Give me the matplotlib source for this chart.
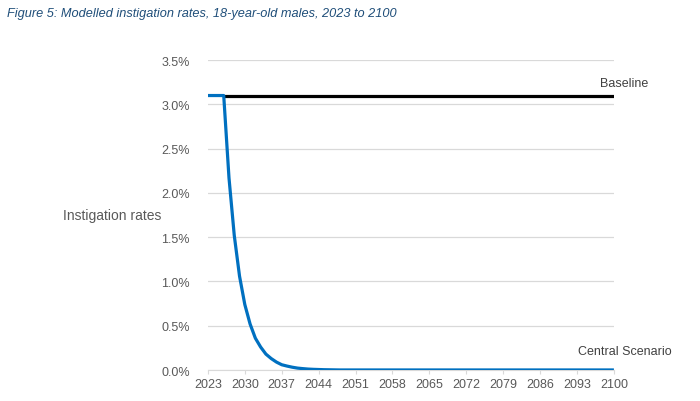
import matplotlib
matplotlib.use("Agg")
import matplotlib.pyplot as plt

plt.rcParams["font.family"] = ["Liberation Sans", "DejaVu Sans"]

years = list(range(2023, 2101))
baseline = [3.1] * len(years)
central_head = [3.1, 3.1, 3.1, 3.1, 2.17, 1.52, 1.06, 0.74, 0.52, 0.36,
                0.26, 0.18, 0.13, 0.09, 0.06, 0.045, 0.032, 0.022, 0.016, 0.011,
                0.008, 0.006, 0.004, 0.003, 0.002]
central = central_head + [0.001] * (len(years) - len(central_head))
xticks = list(range(2023, 2101, 7))
yticks = [0.0, 0.5, 1.0, 1.5, 2.0, 2.5, 3.0, 3.5]

fig = plt.figure(figsize=(7.0, 4.02), dpi=100)
ax = fig.add_axes([0.297, 0.077, 0.58, 0.771])

grid_c = "#d9d9d9"
text_c = "#595959"

# baseline drawn from where the central line starts to fall
ax.plot(years[3:], baseline[3:], color="black", lw=2.3, solid_capstyle="butt", zorder=3)
ax.plot(years, central, color="#0070C0", lw=2.3, solid_capstyle="butt", zorder=4)

ax.set_xlim(2023, 2100)
ax.set_ylim(0, 3.5)
ax.set_yticks(yticks)
ax.set_yticklabels([f"{v:.1f}%" for v in yticks])
ax.set_xticks(xticks)
ax.grid(axis="y", color=grid_c, lw=0.9)
ax.set_axisbelow(True)
for side in ["top", "right", "left"]:
    ax.spines[side].set_visible(False)
ax.spines["bottom"].set_color(grid_c)
ax.tick_params(axis="y", length=0, labelsize=9, labelcolor=text_c, pad=13)
ax.tick_params(axis="x", length=3, color=grid_c, labelsize=9, labelcolor=text_c, pad=3)

ax.set_ylabel("Instigation rates", rotation=0, fontsize=10, color=text_c, labelpad=35, va="center")

ax.text(2106.5, 3.17, "Baseline", fontsize=9, color="#404040", ha="right", va="bottom")
ax.text(2111, 0.15, "Central Scenario", fontsize=9, color="#404040", ha="right", va="bottom")

fig.text(0.01, 0.965, "Figure 5: Modelled instigation rates, 18-year-old males, 2023 to 2100",
         fontsize=9.2, style="italic", color="#1F4E79", ha="left", va="center")

fig.savefig("out.png", dpi=100)
